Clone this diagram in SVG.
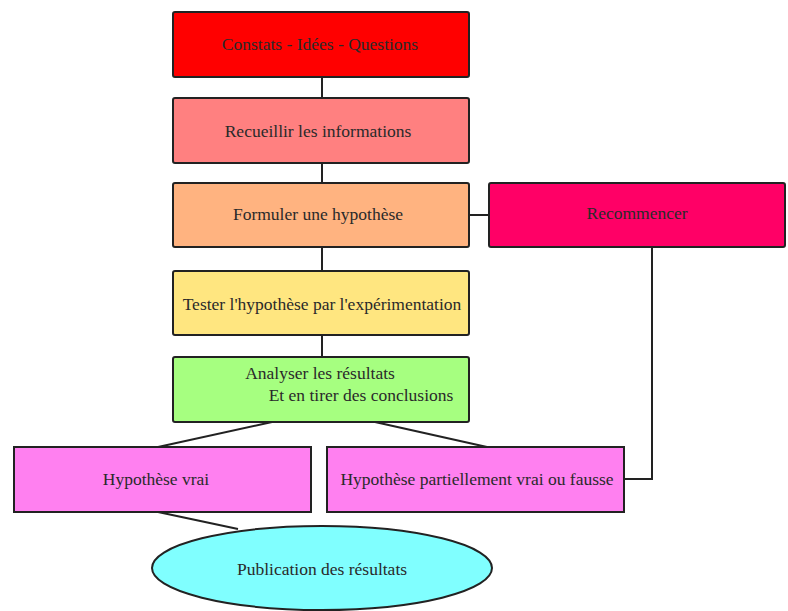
<svg xmlns="http://www.w3.org/2000/svg" width="788" height="611" viewBox="0 0 788 611">
<style>
.b{stroke:#222;stroke-width:2}
.t{font-family:"Liberation Serif","DejaVu Serif",serif;font-size:17.5px;fill:#2a2a2a;text-anchor:middle}
.l{fill:none;stroke:#222;stroke-width:2}
</style>
<rect width="788" height="611" fill="#fff"/>
<g id="connectors">
<line class="l" x1="322" y1="77" x2="322" y2="98"/>
<line class="l" x1="322" y1="163" x2="322" y2="183"/>
<line class="l" x1="322" y1="247" x2="322" y2="271"/>
<line class="l" x1="322" y1="335" x2="322" y2="357"/>
<line class="l" x1="469" y1="215" x2="489" y2="215"/>
<polyline class="l" points="652,247 652,479 624,479"/>
<line class="l" x1="272" y1="422" x2="158" y2="447"/>
<line class="l" x1="375" y1="422" x2="487" y2="447"/>
<line class="l" x1="158" y1="512" x2="238" y2="529"/>
</g>
<g id="constats"><rect class="b" x="173" y="12" width="296" height="65" rx="2" fill="#ff0000"/><text class="t" x="320" y="50">Constats - Idées - Questions</text></g>
<g id="recueillir"><rect class="b" x="173" y="98" width="296" height="65" rx="2" fill="#ff8080"/><text class="t" x="318" y="137">Recueillir les informations</text></g>
<g id="formuler"><rect class="b" x="173" y="183" width="296" height="64" rx="2" fill="#ffb380"/><text class="t" x="318" y="220">Formuler une hypothèse</text></g>
<g id="recommencer"><rect class="b" x="489" y="183" width="296" height="64" rx="2" fill="#ff0066"/><text class="t" x="637" y="219">Recommencer</text></g>
<g id="tester"><rect class="b" x="173" y="271" width="296" height="64" rx="2" fill="#ffe680"/><text class="t" x="322" y="310">Tester l'hypothèse par l'expérimentation</text></g>
<g id="analyser"><rect class="b" x="173" y="357" width="296" height="65" rx="2" fill="#a6ff80"/><text class="t" x="320" y="379">Analyser les résultats</text><text class="t" x="361" y="401">Et en tirer des conclusions</text></g>
<g id="vrai"><rect class="b" x="14" y="447" width="297" height="65" fill="#ff80f0"/><text class="t" x="156" y="485">Hypothèse vrai</text></g>
<g id="partiel"><rect class="b" x="327" y="447" width="297" height="65" fill="#ff80f0"/><text class="t" x="477" y="485">Hypothèse partiellement vrai ou fausse</text></g>
<g id="publication"><ellipse class="b" cx="322" cy="568" rx="170" ry="42" fill="#80ffff"/><text class="t" x="322" y="575">Publication des résultats</text></g>
</svg>
